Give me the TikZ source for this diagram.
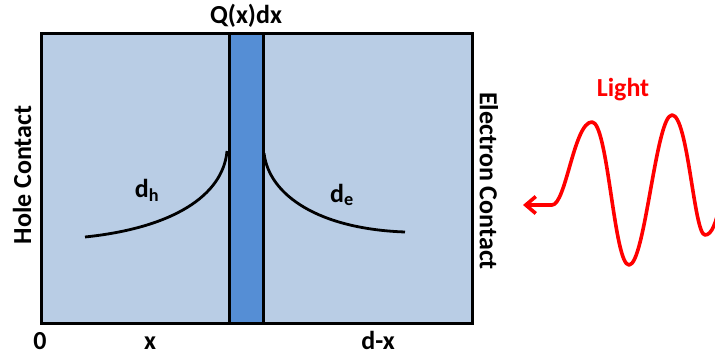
\documentclass[tikz,border=0pt]{standalone}
\usepackage{fontspec}
\setmainfont{Carlito}
\usetikzlibrary{arrows.meta, positioning}
\definecolor{LB}{RGB}{185,205,229}
\definecolor{MB}{RGB}{85,142,213}
\definecolor{RD}{RGB}{255,0,0}

\begin{document}
\begin{tikzpicture}[x=1pt, y=-1pt,
  lbl/.style={font=\fontsize{26}{30}\selectfont\bfseries, inner sep=0pt},
  layer/.style={draw=black, line width=3pt, fill=#1, inner sep=0pt,
                minimum height=290pt},
  decay/.style={draw=black, line width=2.8pt},
  wave/.style={draw=RD, line width=3.6pt, line cap=round, line join=round,
               {Straight Barb[length=10pt, width=17pt]}-}
]
\useasboundingbox (0,0) rectangle (715,356);

\node[layer=LB, minimum width=431pt] (dev)  at (256.5,178) {};
\node[layer=MB, minimum width=34pt]  (slab) at (246,178) {};

\draw[decay] (85,237) .. controls (172,228) and (223,196) .. (227,151);
\draw[decay] (264,153) .. controls (269,196) and (320,229) .. (405,232);

\node[lbl] (qx)   at (246,16)  {Q(x)dx};
\node[lbl] (dh)   at (147,190) {d\textsubscript{h}};
\node[lbl] (de)   at (342,195) {d\textsubscript{e}};
\node[lbl, anchor=base] (zero) at (40,349)  {0};
\node[lbl, anchor=base] (xpos) at (150,349) {x};
\node[lbl, anchor=base] (dmx)  at (378,349) {d-x};
\node[lbl, rotate=90]  (hole) at (22,175)  {Hole Contact};
\node[lbl, rotate=-90] (elec) at (489,181) {Electron Contact};
\node[lbl, text=RD] (light) at (623,90) {Light};

% incoming light
\coordinate (tip)  at (523,205);
\coordinate (tail) at (720,205);
\begin{scope}
  \clip (0,0) rectangle (715,356);
  \draw[wave] (tip) -- (552,205)
    .. controls (566,205) and (574,122) .. (592,122)
    .. controls (608,122) and (614,265) .. (629,265)
    .. controls (645,265) and (656,115) .. (672,115)
    .. controls (688,115) and (694,235) .. (705,235)
    .. controls (712,235) and (716,222) .. (tail);
\end{scope}
\end{tikzpicture}
\end{document}
